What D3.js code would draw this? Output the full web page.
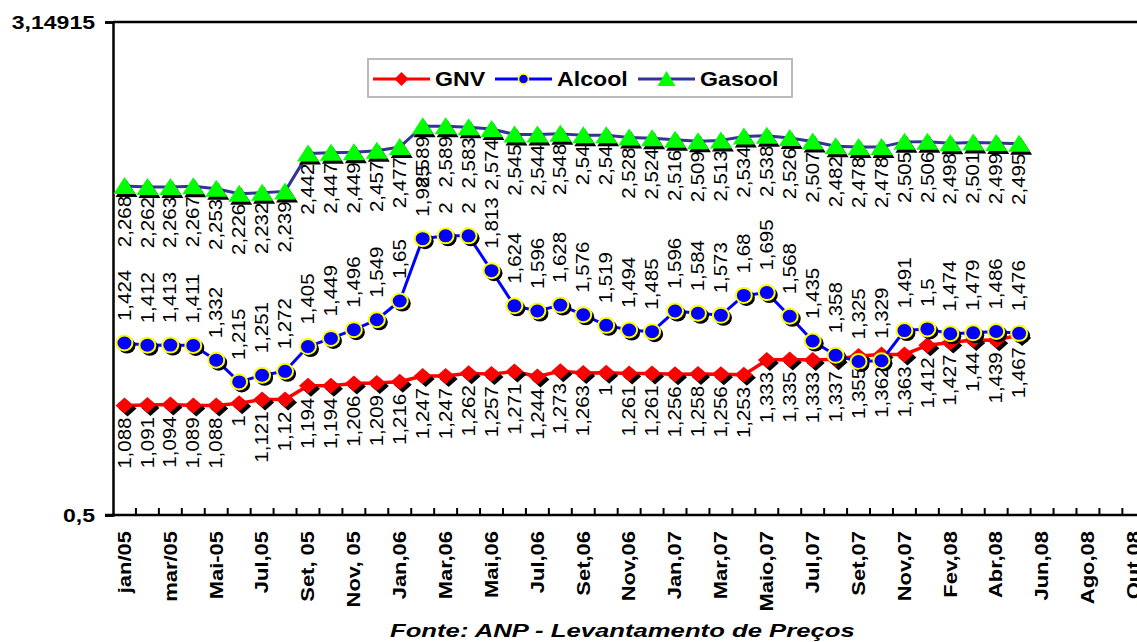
<!DOCTYPE html>
<html><head><meta charset="utf-8">
<script src="https://cdn.jsdelivr.net/npm/d3@7"></script>
<style>
html,body{margin:0;padding:0;background:#fff;}
svg{display:block;}
text{font-family:"Liberation Sans",Arial,sans-serif;fill:#000;}
</style></head>
<body>
<svg id="chart" width="1137" height="642"></svg>
<script>
// ---------- data ----------
const categories = ["jan/05","fev/05","mar/05","abr/05","Mai-05","Jun-05","Jul,05","Ago,05","Set, 05","Out, 05",
  "Nov, 05","Dez, 05","Jan,06","Fev,06","Mar,06","Abr,06","Mai,06","Jun,06","Jul,06","Ago,06",
  "Set,06","Out,06","Nov,06","Dez,06","Jan,07","Fev,07","Mar,07","Abr,07","Maio,07","Jun,07",
  "Jul,07","Ago,07","Set,07","Out,07","Nov,07","Jan,08","Fev,08","Mar,08","Abr,08","Mai,08",
  "Jun,08","Jul,08","Ago,08","Set,08","Out,08"];
const seriesNames = ["GNV","Alcool","Gasool"];
const gnv = [1.088,1.091,1.094,1.089,1.088,1.10,1.121,1.12,1.194,1.194,1.206,1.209,1.216,1.247,1.247,1.262,1.257,1.271,1.244,1.273,
  1.263,1.265,1.261,1.261,1.256,1.258,1.256,1.253,1.333,1.335,1.333,1.337,1.355,1.362,1.363,1.412,1.427,1.44,1.439,1.467];
const gnvLabelOverrides = {5:"1", 21:"1"};
const alcool = [1.424,1.412,1.413,1.411,1.332,1.215,1.251,1.272,1.405,1.449,1.496,1.549,1.65,1.985,2,2,1.813,1.624,1.596,1.628,
  1.576,1.519,1.494,1.485,1.596,1.584,1.573,1.68,1.695,1.568,1.435,1.358,1.325,1.329,1.491,1.5,1.474,1.479,1.486,1.476];
const gasool = [2.268,2.262,2.263,2.267,2.253,2.226,2.232,2.239,2.442,2.447,2.449,2.457,2.477,2.589,2.589,2.583,2.574,2.545,2.544,2.548,
  2.54,2.54,2.528,2.524,2.516,2.509,2.513,2.534,2.538,2.526,2.507,2.482,2.478,2.478,2.505,2.506,2.498,2.501,2.499,2.495];
const yTicks = [0.5, 3.14915];
const sourceText = "Fonte: ANP - Levantamento de Preços";

(function(){
// ---------- layout ----------
const svg = d3.select("#chart");
const pLeft = 113, pTop = 22, pBottom = 515, step = 22.94;
const x = d3.scaleBand().domain(categories).range([pLeft, pLeft + step*categories.length]).padding(0);
const y = d3.scaleLinear().domain([yTicks[0], yTicks[1]]).range([pBottom, pTop]);
const cx = i => x(categories[i]) + x.bandwidth()/2;
const fmt = v => String(v).replace(".", ",");

// plot border top
svg.append("line").attr("x1", pLeft).attr("x2", 1140).attr("y1", pTop).attr("y2", pTop).attr("stroke","#000").attr("stroke-width",2.5);

// y axis
const yAxis = d3.axisLeft(y).tickValues(yTicks).tickSize(8).tickFormat(d => fmt(d));
const yg = svg.append("g").attr("transform", `translate(${pLeft},0)`).call(yAxis);
yg.select(".domain").attr("stroke","#000").attr("stroke-width",2.5);
yg.selectAll(".tick line").attr("stroke","#000").attr("stroke-width",2.5);
yg.selectAll(".tick text").attr("font-size",18).attr("font-weight","bold").attr("fill","#000")
  .attr("x",0).attr("dy","0.35em").attr("text-anchor","end")
  .attr("transform","translate(-18,0) scale(1.28,1)");

// x axis
const xAxis = d3.axisBottom(x).tickSize(0).tickFormat((d,i) => i % 2 === 0 ? d : "");
const xg = svg.append("g").attr("transform", `translate(0,${pBottom})`).call(xAxis);
xg.select(".domain").attr("stroke","#000").attr("stroke-width",2.5).attr("d", `M${pLeft-8},0H1140`);
xg.selectAll(".tick text").attr("font-size",18).attr("font-weight","bold").attr("fill","#000")
  .attr("text-anchor","end").attr("dy","0.35em").attr("y",0)
  .attr("transform","translate(0,16) rotate(-90) scale(1.22,1)");
// tick marks between categories, pointing inward
svg.append("g").selectAll("line").data(d3.range(1, categories.length+1)).join("line")
  .attr("x1", k => pLeft + k*x.bandwidth()).attr("x2", k => pLeft + k*x.bandwidth())
  .attr("y1", pBottom).attr("y2", pBottom-7).attr("stroke","#000").attr("stroke-width",2);

// ---------- series ----------
const lineGen = d3.line().x((d,i) => cx(i)).y(d => y(d));
const diamond = "M0,-8L9,0L0,8L-9,0Z";
const triangle = "M0,-9L11,8L-11,8Z";

function drawSeries(vals, color, width, drawMarker) {
  const g = svg.append("g");
  g.append("path").datum(vals).attr("d", lineGen).attr("fill","none").attr("stroke",color).attr("stroke-width",width).attr("stroke-linejoin","round");
  const m = g.selectAll("g.m").data(vals).join("g").attr("class","m")
    .attr("transform", (d,i) => `translate(${cx(i)},${y(d)})`);
  drawMarker(m);
}

drawSeries(gnv, "#FF0000", 3.5, m => {
  m.append("path").attr("d", diamond).attr("fill","#000").attr("transform","translate(3,3)");
  m.append("path").attr("d", diamond).attr("fill","#FF0000");
});
drawSeries(alcool, "#0000FF", 3, m => {
  m.append("ellipse").attr("rx",8.5).attr("ry",8).attr("fill","#000").attr("transform","translate(2.5,2.5)");
  m.append("ellipse").attr("rx",8).attr("ry",7.5).attr("fill","#0000FF").attr("stroke","#FFFF00").attr("stroke-width",2);
});
drawSeries(gasool, "#333399", 3, m => {
  m.append("path").attr("d", triangle).attr("fill","#000").attr("transform","translate(2,3)");
  m.append("path").attr("d", triangle).attr("fill","#00FF00");
});

// ---------- data labels ----------
function labels(vals, offset, anchor, textFn) {
  svg.append("g").selectAll("text").data(vals).join("text")
    .attr("font-size",17.5).attr("text-anchor",anchor).attr("dy","0.35em")
    .attr("transform",(d,i) => `translate(${cx(i)},${y(d)+offset}) rotate(-90) scale(1.17,1)`)
    .text((d,i) => textFn(d,i));
}
labels(gnv, 12, "end", (d,i) => gnvLabelOverrides[i] !== undefined ? gnvLabelOverrides[i] : fmt(d));
labels(alcool, -22, "start", d => fmt(d));
labels(gasool, 10, "end", d => fmt(d));

// ---------- legend ----------
const lg = svg.append("g");
lg.append("rect").attr("x",368).attr("y",59).attr("width",424).attr("height",38).attr("fill","#fff").attr("stroke","#bbb").attr("stroke-width",2);
const legendItems = [
  {name: seriesNames[0], color:"#FF0000", x0:373, x1:430, tx:435},
  {name: seriesNames[1], color:"#0000FF", x0:495, x1:552, tx:557},
  {name: seriesNames[2], color:"#333399", x0:638, x1:695, tx:700}
];
legendItems.forEach((it, k) => {
  lg.append("line").attr("x1",it.x0).attr("x2",it.x1).attr("y1",79).attr("y2",79).attr("stroke",it.color).attr("stroke-width",3);
  const mx = (it.x0+it.x1)/2;
  if (k === 0) lg.append("path").attr("d","M0,-7L7,0L0,7L-7,0Z").attr("fill","#FF0000").attr("transform",`translate(${mx},79)`);
  if (k === 1) lg.append("circle").attr("r",5).attr("cx",mx).attr("cy",79).attr("fill","#0000FF").attr("stroke","#FFFF00").attr("stroke-width",1.5);
  if (k === 2) lg.append("path").attr("d","M0,-8L9,7L-9,7Z").attr("fill","#00FF00").attr("transform",`translate(${mx},79)`);
  lg.append("text").attr("font-size",20.5).attr("font-weight","bold")
    .attr("transform",`translate(${it.tx},86) scale(1.13,1)`).text(it.name);
});

// ---------- source ----------
const src = svg.append("text").attr("font-size",18).attr("font-weight","bold").attr("font-style","italic")
  .attr("text-anchor","start").text(sourceText);
const w = src.node().getComputedTextLength();
src.attr("transform", `translate(390,637) scale(${465/w},1)`);
})();
</script>
</body></html>
